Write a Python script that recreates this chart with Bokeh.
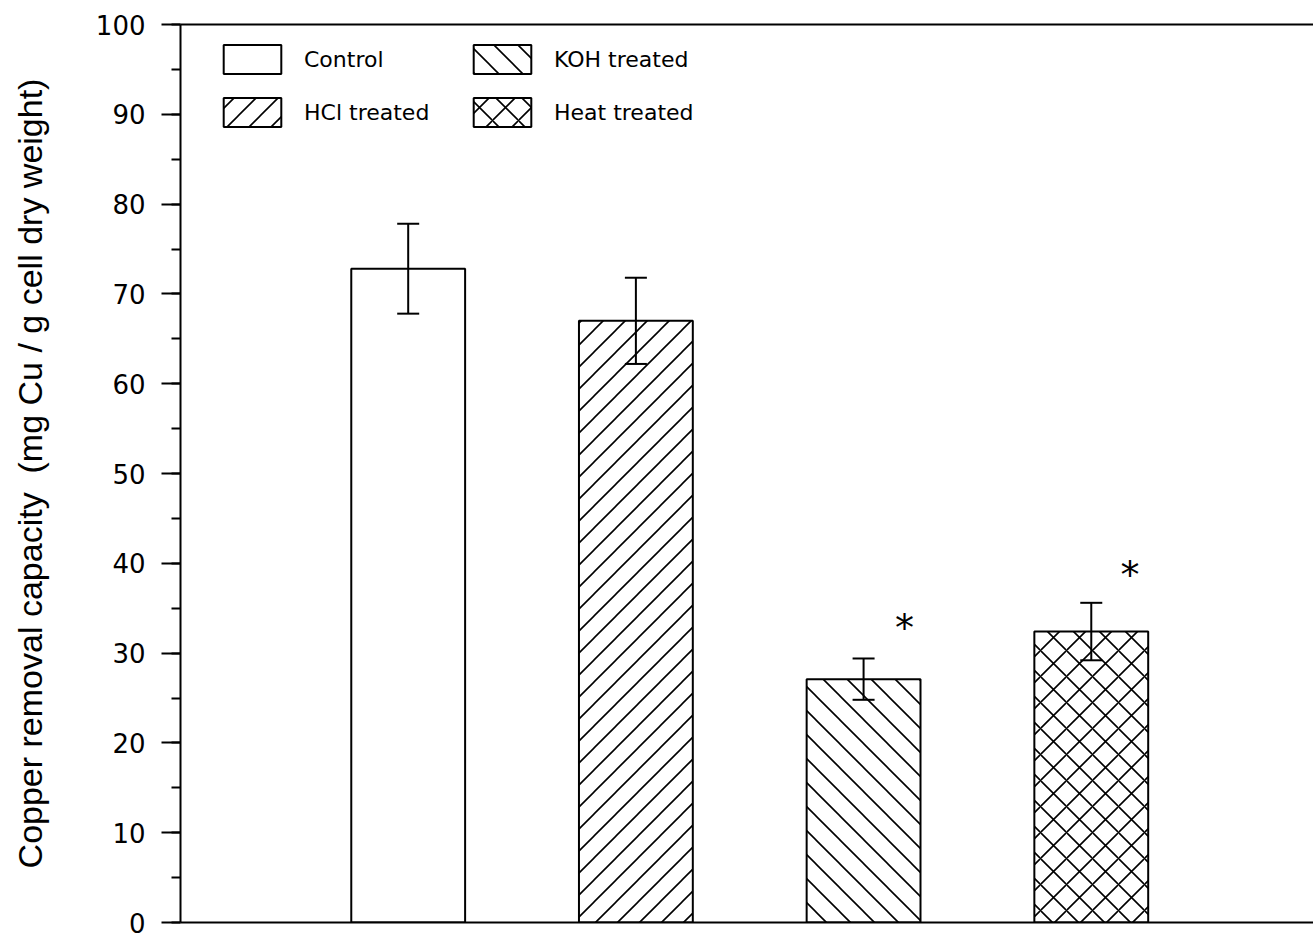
import base64
from bokeh.plotting import figure
from bokeh.models import (ColumnDataSource, Range1d, LinearAxis, FixedTicker,
                          SingleIntervalTicker, Whisker, TeeHead, Legend, LegendItem,
                          ImageURLTexture)
from bokeh.embed import file_html
from bokeh.resources import INLINE
from bokeh.core.properties import value

# ---- data ----
categories = ["Control", "HCl treated", "KOH treated", "Heat treated"]
positions = [1, 2, 3, 4]
capacity = [72.8, 67.0, 27.1, 32.4]
error = [5.0, 4.8, 2.3, 3.2]
star_x = [3.18, 4.17]
star_y = [32.8, 38.7]
y_label = "Copper removal capacity\u00a0 (mg Cu / g cell dry weight)"

# ---- styles ----
def diag_tile(s, forward=True, w=1.6):
    if forward:
        d = f"M0,{s} L{s},0 M-3,3 L3,-3 M{s-3},{s+3} L{s+3},{s-3}"
    else:
        d = f"M0,0 L{s},{s} M-3,{s-3} L3,{s+3} M{s-3},-3 L{s+3},3"
    svg = (f'<svg xmlns="http://www.w3.org/2000/svg" width="{s}" height="{s}">'
           f'<path d="{d}" stroke="black" stroke-width="{w}" fill="none"/></svg>')
    return "data:image/svg+xml;base64," + base64.b64encode(svg.encode()).decode()

textures = {
    "fwd": ImageURLTexture(url=diag_tile(22, True), repetition="repeat"),
    "back": ImageURLTexture(url=diag_tile(24, False), repetition="repeat"),
}
hatch_patterns = [" ", "fwd", "back", "x"]
hatch_scales = [26, 26, 26, 26]

p = figure(frame_width=1133, frame_height=898, output_backend="svg",
           toolbar_location=None, x_range=Range1d(0, 4.976), y_range=Range1d(0, 100),
           x_axis_location=None, y_axis_location=None,
           min_border_left=180, min_border_top=24, min_border_right=0, min_border_bottom=13)
p.outline_line_color = None
p.xgrid.visible = False
p.ygrid.visible = False
p.background_fill_color = "white"
p.border_fill_color = "white"

# left axis
yax = LinearAxis(ticker=SingleIntervalTicker(interval=10, num_minor_ticks=2),
                 axis_label=y_label)
yax.axis_line_width = 2
yax.major_tick_line_width = 2
yax.minor_tick_line_width = 2
yax.major_tick_out = 19
yax.major_tick_in = 0
yax.minor_tick_out = 9
yax.minor_tick_in = 0
yax.major_label_standoff = 16
yax.major_label_text_font = "DejaVu Sans"
yax.major_label_text_font_size = "26px"
yax.major_label_text_color = "black"
yax.axis_label_text_font = "Liberation Sans"
yax.axis_label_text_font_size = "34px"
yax.axis_label_text_font_style = "normal"
yax.axis_label_text_color = "black"
yax.axis_label_standoff = 44
p.add_layout(yax, "left")

# bottom and top frame lines
for loc in ("below", "above"):
    ax = LinearAxis(ticker=FixedTicker(ticks=[]))
    ax.axis_line_width = 2
    ax.major_tick_out = 0
    ax.minor_tick_out = 0
    p.add_layout(ax, loc)

src = ColumnDataSource(dict(
    x=positions, top=capacity, cat=categories,
    upper=[c + e for c, e in zip(capacity, error)],
    lower=[c - e for c, e in zip(capacity, error)],
    hatch=hatch_patterns, hscale=hatch_scales,
))

bars = p.vbar(x="x", top="top", width=0.5, source=src, fill_color="white",
              line_color="black", line_width=2, hatch_pattern="hatch",
              hatch_scale="hscale", hatch_weight=1.6, hatch_color="black",
              hatch_extra=textures)

wh = Whisker(base="x", upper="upper", lower="lower", source=src, level="overlay",
             line_width=2, line_color="black",
             upper_head=TeeHead(size=22, line_width=2, line_color="black"),
             lower_head=TeeHead(size=22, line_width=2, line_color="black"))
p.add_layout(wh)

p.text(x=star_x, y=star_y, text=["*"] * len(star_x), text_font=value("DejaVu Sans"),
       text_font_size="38px", text_align="center", text_baseline="middle",
       text_color="black")

items = [LegendItem(label=c, renderers=[bars], index=i) for i, c in enumerate(categories)]
legend = Legend(items=items, ncols=2, location=(36, 792), glyph_width=72, glyph_height=36,
                label_standoff=16, label_width=145, spacing=17, padding=0, margin=0,
                border_line_alpha=0, background_fill_alpha=0,
                label_text_font="DejaVu Sans", label_text_font_size="22px",
                label_text_color="black")
p.add_layout(legend)

open("out.html", "w").write(file_html(p, INLINE))
